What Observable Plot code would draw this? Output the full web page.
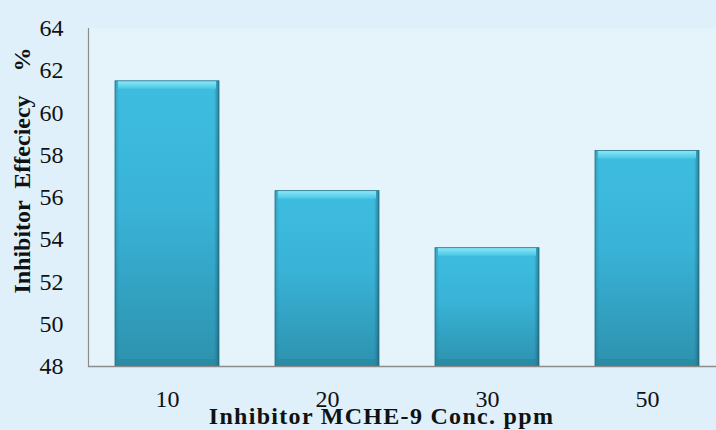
<!DOCTYPE html>
<html>
<head>
<meta charset="utf-8">
<script src="https://cdn.jsdelivr.net/npm/d3@7"></script>
<script src="https://cdn.jsdelivr.net/npm/@observablehq/plot@0.6"></script>
<style>
  html, body { margin: 0; padding: 0; background: #dff0fa; }
  #chart { width: 716px; height: 430px; }
  .x-title text { letter-spacing: 1.3px; }
</style>
</head>
<body>
<div id="chart"></div>
<script>
// Inhibitor efficiency (%) at each MCHE-9 concentration (ppm)
const concentrations = ["10", "20", "30", "50"];
const efficiency = [61.5, 56.3, 53.6, 58.2];
const yTicks = [48, 50, 52, 54, 56, 58, 60, 62, 64];
const xTitle = "Inhibitor MCHE-9 Conc. ppm";
const yTitle = "Inhibitor  Effeciecy    %";

const rows = concentrations.map((c, i) => ({conc: c, value: efficiency[i]}));
const serif = "'Liberation Serif', 'Times New Roman', serif";

// gradient definitions for the bevelled bar look
const defs = () => {
  const g = d3.create("svg:g");
  const d = g.append("defs");
  const body = d.append("linearGradient").attr("id", "barBody").attr("x1", 0).attr("y1", 0).attr("x2", 0).attr("y2", 1);
  body.append("stop").attr("offset", "0%").attr("stop-color", "#3ebde0");
  body.append("stop").attr("offset", "45%").attr("stop-color", "#39b3d7");
  body.append("stop").attr("offset", "100%").attr("stop-color", "#2d92ae");
  const side = d.append("linearGradient").attr("id", "barSide").attr("x1", 0).attr("y1", 0).attr("x2", 1).attr("y2", 0);
  side.append("stop").attr("offset", "0%").attr("stop-color", "#1e6a80").attr("stop-opacity", 0.35);
  side.append("stop").attr("offset", "4%").attr("stop-color", "#1e6a80").attr("stop-opacity", 0);
  side.append("stop").attr("offset", "95%").attr("stop-color", "#1e6a80").attr("stop-opacity", 0);
  side.append("stop").attr("offset", "100%").attr("stop-color", "#174f60").attr("stop-opacity", 0.6);
  const top = d.append("linearGradient").attr("id", "barTop").attr("x1", 0).attr("y1", 0).attr("x2", 0).attr("y2", 1);
  top.append("stop").attr("offset", "0%").attr("stop-color", "#8fe8f9");
  top.append("stop").attr("offset", "100%").attr("stop-color", "#48c7e5");
  return g.node();
};

const chart = Plot.plot({
  width: 716,
  height: 430,
  marginLeft: 88,
  marginRight: 0,
  marginTop: 28,
  marginBottom: 64,
  style: {background: "#dff0fa", fontFamily: serif, overflow: "hidden"},
  x: {type: "band", domain: concentrations, range: [87, 727], paddingInner: 0.35, paddingOuter: 0.175, align: 0.5},
  y: {domain: [48, 64]},
  marks: [
    defs,
    Plot.frame({fill: "#e5f3fb", stroke: null}),
    // bar body
    Plot.barY(rows, {x: "conc", y1: 48, y2: "value", fill: "url(#barBody)"}),
    // darker side edges
    Plot.barY(rows, {x: "conc", y1: 48, y2: "value", fill: "url(#barSide)"}),
    // lighter top bevel
    Plot.barY(rows, {x: "conc", y1: "value", y2: "value", insetBottom: -8, insetLeft: 3, insetRight: 3, fill: "url(#barTop)"}),
    // darker bottom bevel
    Plot.barY(rows, {x: "conc", y1: 48, y2: 48, insetTop: -7, insetLeft: 3, insetRight: 3, fill: "#2a879f", fillOpacity: 0.7}),
    // bar outline
    Plot.barY(rows, {x: "conc", y1: 48, y2: "value", fill: null, stroke: "#226f86", strokeWidth: 0.8}),
    Plot.axisY({ticks: yTicks, tickSize: 0, tickPadding: 25, fontSize: 24, fill: "#111", label: null}),
    Plot.axisX({tickSize: 0, tickPadding: 23, fontSize: 24, fill: "#111", label: null}),
    Plot.frame({anchor: "left", stroke: "#8c8c8c", strokeWidth: 1.2}),
    Plot.ruleY([48], {stroke: "#8c8c8c", strokeWidth: 1.5}),
    Plot.text([xTitle], {frameAnchor: "bottom", textAnchor: "middle", lineAnchor: "middle", dx: -21, dy: 50, fontSize: 24, fontWeight: "bold", fill: "#111", className: "x-title"}),
    Plot.text([yTitle], {frameAnchor: "left", textAnchor: "middle", lineAnchor: "middle", rotate: -90, dx: -66, dy: -27, fontSize: 24, fontWeight: "bold", fill: "#111"})
  ]
});

document.getElementById("chart").appendChild(chart);
</script>
</body>
</html>
